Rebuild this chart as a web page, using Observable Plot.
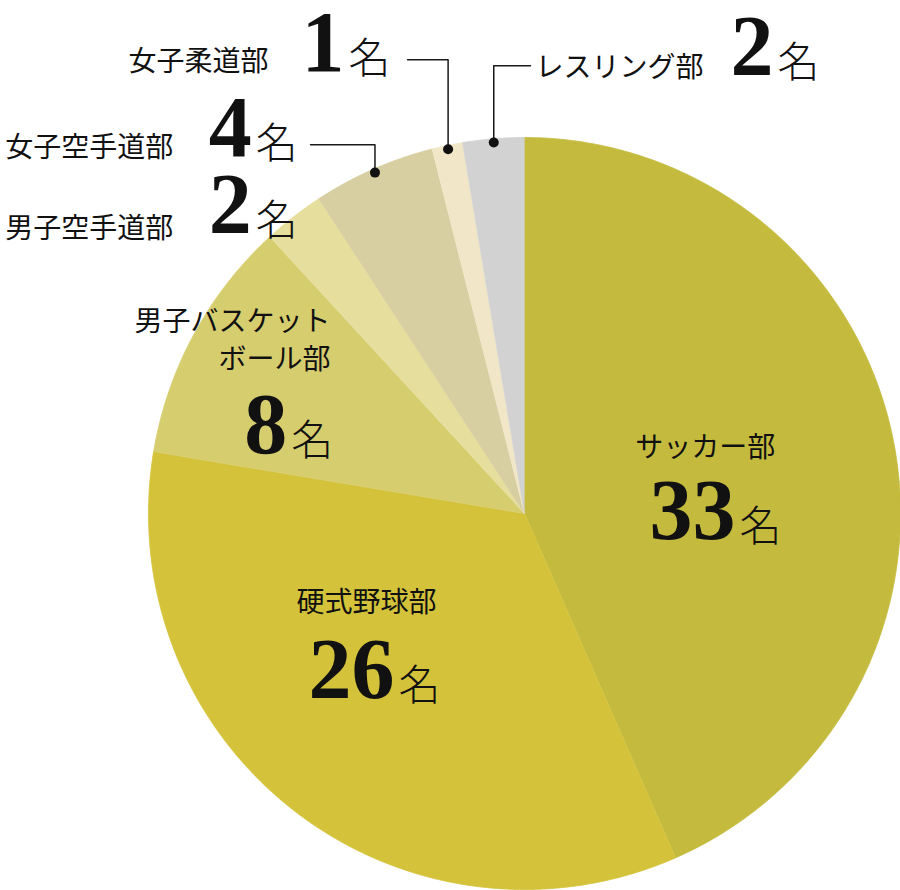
<!DOCTYPE html>
<html>
<head>
<meta charset="utf-8">
<script src="https://cdn.jsdelivr.net/npm/d3@7"></script>
<script src="https://cdn.jsdelivr.net/npm/@observablehq/plot@0.6"></script>
<style>
  html, body { margin: 0; padding: 0; background: #fff; }
  #chart svg { display: block; }
</style>
</head>
<body>
<div id="chart"></div>
<script>
// ---- data ----
const clubs = ["サッカー部", "硬式野球部", "男子バスケットボール部", "男子空手道部", "女子空手道部", "女子柔道部", "レスリング部"];
const members = [33, 26, 8, 2, 4, 1, 2];
const unitLabel = "名";
const nameLines = [["サッカー部"], ["硬式野球部"], ["男子バスケット", "ボール部"], ["男子空手道部"], ["女子空手道部"], ["女子柔道部"], ["レスリング部"]];

// ---- styles ----
const sliceColors = ["#c4bb3e", "#d4c33a", "#d6cd6f", "#e6de9c", "#d7cea1", "#f1e7c8", "#d2d2d2"];

// ---- label layout (pie units: centre 0,0, radius 1, y up) ----
const nameLayout = [
  {x: 0.481, y: 0.149, anchor: "middle"},
  {x: -0.420, y: -0.261, anchor: "middle"},
  {x: -0.516, y: 0.383, anchor: "end"},
  {x: -0.934, y: 0.734, anchor: "end"},
  {x: -0.934, y: 0.949, anchor: "end"},
  {x: -0.681, y: 1.176, anchor: "end"},
  {x: 0.029, y: 1.160, anchor: "start"}
];
const numberLayout = [
  {x: 0.564, y: -0.069},
  {x: -0.343, y: -0.492},
  {x: -0.628, y: 0.160},
  {x: -0.723, y: 0.745},
  {x: -0.723, y: 0.952},
  {x: -0.476, y: 1.178},
  {x: 0.665, y: 1.165}
];
const leaderLayout = [
  {club: 4, x: -0.569, y: 0.981},
  {club: 5, x: -0.311, y: 1.207},
  {club: 6, x: 0.016, y: 1.191}
];

// ---- geometry ----
const arcs = d3.pie().sort(null).value(d => d)(members);
const slicePts = [];
arcs.forEach((a, i) => {
  const n = Math.max(4, Math.ceil((a.endAngle - a.startAngle) / (Math.PI / 360)));
  slicePts.push({club: clubs[i], color: sliceColors[i], u: 0, v: 0});
  for (let k = 0; k <= n; k++) {
    const t = a.startAngle + (a.endAngle - a.startAngle) * k / n;
    slicePts.push({club: clubs[i], color: sliceColors[i], u: Math.sin(t), v: Math.cos(t)});
  }
});

const dotR = 0.99;
const dots = leaderLayout.map(l => {
  const a = arcs[l.club];
  const m = (a.startAngle + a.endAngle) / 2;
  return {club: clubs[l.club], u: dotR * Math.sin(m), v: dotR * Math.cos(m), lx: l.x, ly: l.y};
});
const leaderPts = dots.flatMap(d => [
  {club: d.club, u: d.lx, v: d.ly},
  {club: d.club, u: d.u, v: d.ly},
  {club: d.club, u: d.u, v: d.v}
]);

const names = clubs.map((c, i) => ({club: c, text: nameLines[i].join("\n"), ...nameLayout[i]}));
const numbers = clubs.map((c, i) => ({club: c, text: String(members[i]), ...numberLayout[i]}));

const R = 376, cx = 524, cy = 513, W = 900, H = 890;

const nameStyle = {x: "x", y: "y", text: "text", lineAnchor: "bottom", lineHeight: 1.39,
  fontSize: 28, fontFamily: "'Noto Sans CJK JP', 'Noto Sans', sans-serif", fontWeight: 400, fill: "#111"};

const chart = Plot.plot({
  width: W,
  height: H,
  margin: 0,
  x: {domain: [-cx / R, (W - cx) / R], axis: null},
  y: {domain: [(cy - H) / R, cy / R], axis: null},
  color: {type: "identity"},
  marks: [
    Plot.line(slicePts, {x: "u", y: "v", z: "club", fill: "color", stroke: "color", strokeWidth: 0.8, curve: "linear"}),
    Plot.line(leaderPts, {x: "u", y: "v", z: "club", stroke: "#1a1a1a", strokeWidth: 1.5, curve: "linear"}),
    Plot.dot(dots, {x: "u", y: "v", r: 5, fill: "#111", stroke: null}),
    ...["start", "middle", "end"].map(anchor =>
      Plot.text(names.filter(d => d.anchor === anchor), {...nameStyle, textAnchor: anchor})),
    Plot.text(numbers, {x: "x", y: "y", text: "text", textAnchor: "end", lineAnchor: "bottom", dx: -1,
      fontSize: 86, fontFamily: "'Liberation Serif', 'DejaVu Serif', serif", fontWeight: "bold", fill: "#111"}),
    Plot.text(numbers, {x: "x", y: "y", text: () => unitLabel, textAnchor: "start", lineAnchor: "bottom", dx: 3, dy: 2,
      fontSize: 42, fontFamily: "'Noto Sans CJK JP', sans-serif", fontWeight: 300, fill: "#111"})
  ]
});
document.getElementById("chart").appendChild(chart);
</script>
</body>
</html>
